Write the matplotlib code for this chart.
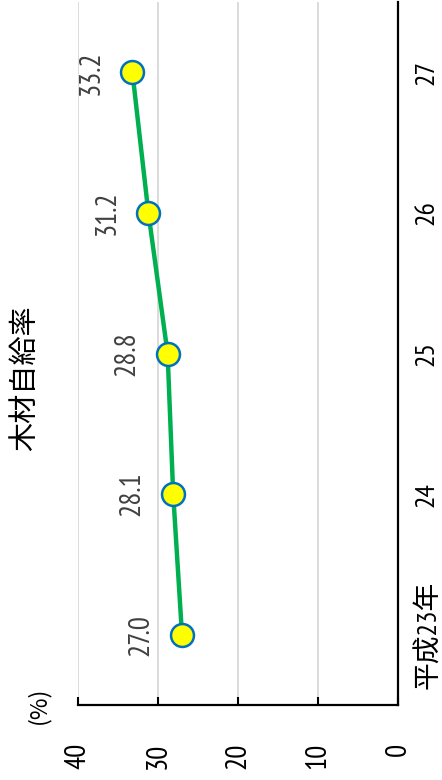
import matplotlib
matplotlib.use("Agg")
import matplotlib.pyplot as plt

# --- data ---
years = ["平成23年", "24", "25", "26", "27"]
rates = [27.0, 28.1, 28.8, 31.2, 33.2]
value_ticks = [0, 10, 20, 30, 40]

NUM_FONT = ["PT Sans Narrow", "Noto Sans CJK JP", "DejaVu Sans"]
JP_FONT = ["Noto Sans CJK JP", "DejaVu Sans"]
plt.rcParams["font.family"] = NUM_FONT

fig = plt.figure(figsize=(4.42, 7.8), dpi=100)
ax = fig.add_axes([78 / 442, 75 / 780, 320 / 442, 703 / 780])

idx = list(range(len(years)))
ax.plot(rates, idx, color="#00B050", lw=3.2, marker="o", ms=16.5,
        mfc="#FFFF00", mec="#0070C0", mew=1.8, zorder=3, clip_on=False)

# value labels, drawn left of each point (above it in the upright chart)
for r, i in zip(rates, idx):
    ax.annotate(f"{r:.1f}", (r, i), xytext=(-29.5, 0), textcoords="offset points",
                rotation=90, ha="center", va="center", fontsize=21,
                color="#404040")

ax.set_xlim(40, 0)
ax.set_ylim(-0.5, len(years) - 0.5)
ax.set_xticks(value_ticks)
ax.set_xticklabels([str(v) for v in value_ticks], rotation=90)
ax.set_yticks(idx)
ax.set_yticklabels(years, rotation=90, va="center")
ax.yaxis.tick_right()

ax.tick_params(axis="x", direction="in", length=6, width=1.5, pad=27,
               labelsize=21, colors="black")
ax.tick_params(axis="y", length=0, pad=12, labelsize=20)

ax.xaxis.grid(True, color="#D9D9D9", lw=1.3)
ax.set_axisbelow(True)
for s in ["left", "top"]:
    ax.spines[s].set_visible(False)
for s in ["right", "bottom"]:
    ax.spines[s].set_linewidth(1.6)
    ax.spines[s].set_color("black")

fig.text(25 / 442, 1 - 378 / 780, "木材自給率", rotation=90, ha="center",
         va="center", fontsize=21, family=JP_FONT)
fig.text(38 / 442, 1 - 705 / 780, "(%)", rotation=90, ha="center",
         va="center", fontsize=17, family=JP_FONT)

fig.savefig("out.png", dpi=100)
